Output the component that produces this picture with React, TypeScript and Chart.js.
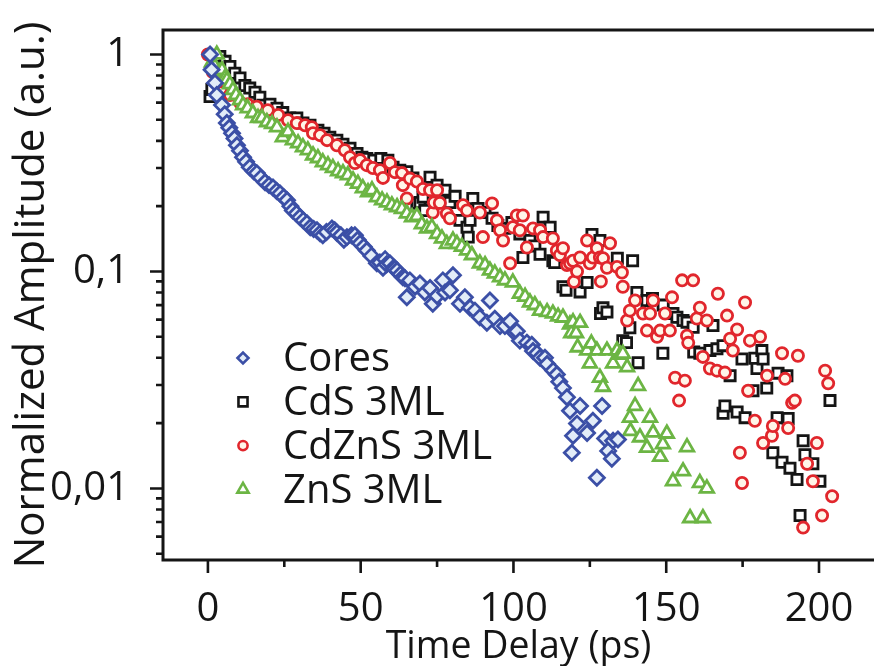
import React, { useEffect, useRef } from 'react';
import { Chart, registerables } from 'chart.js';

Chart.register(...registerables);

// ---------- data (time in ps, normalized amplitude) ----------
const coresT = [0.7, 1.2, 2.3, 2.9, 4.6, 5.5, 6.2, 7.0, 7.9, 8.7, 9.5, 10.5, 11.5, 12.5, 13.7, 15.0, 16.0, 17.3, 18.7, 20.0, 21.3, 22.5, 23.6, 24.8, 25.9, 27.0, 27.8, 29.0, 30.1, 31.2, 32.4, 33.5, 34.6, 35.7, 36.7, 37.6, 38.8, 40.6, 41.5, 42.2, 43.5, 44.5, 45.5, 47.0, 48.1, 49.0, 49.8, 51.0, 52.0, 53.5, 55.3, 56.3, 57.3, 58.0, 58.5, 59.6, 60.8, 61.2, 61.9, 63.0, 63.8, 64.5, 65.1, 66.1, 67.8, 69.4, 71.0, 72.7, 73.6, 75.0, 76.9, 77.6, 79.2, 80.2, 82.5, 84.1, 85.8, 87.4, 89.0, 91.3, 92.3, 93.9, 95.6, 97.2, 98.9, 100.5, 101.1, 102.1, 104.4, 106.0, 106.4, 107.7, 108.7, 110.3, 111.0, 113.0, 114.2, 115.0, 116.2, 117.5, 118.5, 119.1, 119.5, 120.8, 121.8, 124.1, 126.0, 127.3, 129.0, 130.0, 131.0, 132.2, 132.6, 134.2];
const coresV = [1.0, 0.85, 0.74, 0.65, 0.585, 0.53, 0.483, 0.46, 0.434, 0.41, 0.382, 0.36, 0.336, 0.32, 0.302, 0.29, 0.284, 0.27, 0.258, 0.25, 0.244, 0.235, 0.229, 0.22, 0.213, 0.2, 0.191, 0.185, 0.178, 0.172, 0.167, 0.16, 0.157, 0.155, 0.15, 0.147, 0.152, 0.158, 0.155, 0.151, 0.147, 0.14, 0.144, 0.147, 0.147, 0.14, 0.135, 0.13, 0.125, 0.118, 0.109, 0.11, 0.104, 0.114, 0.108, 0.109, 0.104, 0.103, 0.101, 0.097, 0.094, 0.093, 0.076, 0.091, 0.085, 0.088, 0.08, 0.084, 0.071, 0.077, 0.091, 0.08, 0.082, 0.096, 0.071, 0.076, 0.068, 0.066, 0.0615, 0.058, 0.0735, 0.0605, 0.056, 0.056, 0.059, 0.052, 0.053, 0.048, 0.047, 0.046, 0.043, 0.042, 0.04, 0.04, 0.0375, 0.035, 0.0335, 0.031, 0.029, 0.0263, 0.0228, 0.0146, 0.0175, 0.0199, 0.024, 0.018, 0.0205, 0.0112, 0.024, 0.017, 0.0149, 0.0137, 0.0166, 0.0168];

const cdsT = [0.7, 1.3, 3.9, 5.6, 7.2, 8.8, 10.5, 12.1, 13.7, 15.4, 17.0, 18.0, 20.3, 22.6, 24.5, 26.8, 29.1, 31.1, 33.4, 36.0, 38.0, 39.9, 42.2, 44.2, 46.5, 48.8, 50.4, 52.0, 54.3, 56.6, 58.9, 60.6, 62.8, 65.1, 67.1, 68.4, 69.4, 70.4, 71.0, 72.7, 75.0, 77.6, 79.2, 80.9, 82.5, 84.8, 85.2, 85.8, 86.7, 88.4, 90.7, 93.0, 94.9, 97.2, 99.5, 102.1, 103.1, 105.4, 107.0, 108.7, 109.7, 112.0, 112.9, 113.5, 116.2, 117.2, 121.8, 124.1, 125.7, 128.3, 128.5, 129.3, 130.6, 134.0, 135.8, 137.0, 138.1, 139.0, 140.4, 140.8, 143.7, 145.5, 148.9, 149.0, 152.2, 153.5, 155.5, 156.8, 158.8, 159.0, 161.0, 164.3, 165.3, 166.6, 168.6, 168.6, 169.2, 170.9, 173.2, 174.8, 175.8, 178.4, 179.0, 179.7, 181.3, 181.7, 182.9, 184.9, 186.3, 186.6, 187.9, 189.5, 189.9, 190.5, 192.8, 193.8, 194.8, 195.4, 198.0, 200.3, 203.6];
const cdsV = [0.64, 0.69, 0.98, 0.93, 0.88, 0.82, 0.78, 0.72, 0.7, 0.67, 0.636, 0.584, 0.59, 0.566, 0.54, 0.51, 0.51, 0.483, 0.472, 0.448, 0.434, 0.416, 0.403, 0.386, 0.37, 0.35, 0.336, 0.332, 0.326, 0.332, 0.326, 0.302, 0.293, 0.288, 0.27, 0.206, 0.208, 0.22, 0.191, 0.272, 0.25, 0.237, 0.208, 0.222, 0.172, 0.16, 0.144, 0.172, 0.217, 0.195, 0.187, 0.176, 0.163, 0.158, 0.168, 0.149, 0.116, 0.139, 0.131, 0.12, 0.178, 0.16, 0.112, 0.11, 0.085, 0.082, 0.0805, 0.089, 0.148, 0.139, 0.064, 0.068, 0.065, 0.115, 0.048, 0.047, 0.055, 0.112, 0.08, 0.038, 0.0735, 0.075, 0.042, 0.07, 0.064, 0.0615, 0.0594, 0.0584, 0.0553, 0.0425, 0.042, 0.0432, 0.0563, 0.044, 0.0455, 0.0222, 0.024, 0.0331, 0.0225, 0.0395, 0.0212, 0.0282, 0.0398, 0.0357, 0.0432, 0.0395, 0.029, 0.0146, 0.0212, 0.034, 0.0132, 0.0331, 0.021, 0.0124, 0.011, 0.0075, 0.0166, 0.0143, 0.013, 0.0108, 0.0254];

const cdznsT = [0.0, 1.6, 3.0, 4.6, 7.2, 10.5, 13.0, 16.0, 19.6, 23.0, 26.2, 29.1, 31.8, 34.0, 34.4, 36.7, 39.0, 42.2, 44.8, 46.5, 48.1, 49.8, 52.0, 54.0, 56.3, 57.3, 59.6, 61.2, 63.5, 63.8, 65.1, 66.1, 68.4, 70.4, 72.7, 73.6, 74.0, 75.0, 75.9, 78.2, 79.2, 83.5, 84.8, 89.0, 90.0, 93.0, 94.6, 95.6, 96.6, 98.9, 99.8, 101.1, 102.1, 103.1, 104.4, 106.4, 108.7, 109.7, 112.9, 114.2, 115.2, 116.2, 117.5, 118.5, 119.5, 119.8, 120.8, 121.8, 124.1, 125.0, 126.0, 127.3, 128.3, 128.6, 129.3, 130.6, 131.6, 133.9, 135.5, 135.8, 137.2, 138.1, 139.8, 142.4, 143.7, 144.7, 145.7, 147.0, 148.0, 149.6, 151.2, 151.9, 152.9, 154.2, 155.2, 156.1, 156.8, 157.2, 158.8, 160.0, 161.0, 162.0, 163.3, 164.3, 166.6, 166.9, 169.2, 169.9, 170.9, 171.8, 173.2, 174.1, 174.8, 175.8, 176.8, 177.4, 179.0, 180.7, 181.7, 183.0, 184.6, 184.9, 187.9, 188.9, 189.9, 191.2, 192.1, 193.1, 194.8, 196.1, 198.0, 199.3, 201.0, 202.0, 203.0, 204.3];
const cdznsV = [1.0, 0.83, 0.75, 0.67, 0.65, 0.6, 0.59, 0.575, 0.554, 0.526, 0.498, 0.483, 0.472, 0.462, 0.434, 0.425, 0.403, 0.382, 0.362, 0.336, 0.316, 0.326, 0.309, 0.3, 0.293, 0.27, 0.316, 0.287, 0.284, 0.25, 0.217, 0.268, 0.26, 0.24, 0.237, 0.187, 0.208, 0.237, 0.207, 0.185, 0.176, 0.202, 0.191, 0.187, 0.144, 0.206, 0.172, 0.155, 0.139, 0.109, 0.16, 0.181, 0.155, 0.181, 0.129, 0.158, 0.155, 0.144, 0.142, 0.125, 0.119, 0.128, 0.107, 0.109, 0.112, 0.0897, 0.1, 0.116, 0.139, 0.109, 0.116, 0.128, 0.116, 0.09, 0.115, 0.104, 0.135, 0.105, 0.099, 0.085, 0.0594, 0.066, 0.0735, 0.064, 0.0534, 0.064, 0.0735, 0.05, 0.0534, 0.064, 0.0534, 0.076, 0.0324, 0.0254, 0.091, 0.0314, 0.0506, 0.0469, 0.091, 0.0607, 0.068, 0.0404, 0.0594, 0.0357, 0.0349, 0.079, 0.0342, 0.0626, 0.049, 0.0432, 0.054, 0.0146, 0.0106, 0.072, 0.0282, 0.048, 0.0205, 0.05, 0.0162, 0.0331, 0.0175, 0.0194, 0.042, 0.032, 0.019, 0.0248, 0.0254, 0.0409, 0.0066, 0.013, 0.0108, 0.0162, 0.0075, 0.0349, 0.0305, 0.0092];

const znsT = [1.3, 2.3, 2.9, 3.9, 4.6, 5.6, 6.2, 7.2, 8.2, 9.2, 10.5, 11.5, 13.0, 14.7, 16.4, 17.7, 19.3, 21.0, 22.6, 24.5, 26.2, 27.8, 29.5, 31.1, 32.7, 34.4, 36.0, 37.6, 39.3, 40.9, 42.6, 44.2, 45.8, 47.5, 49.1, 50.7, 52.4, 53.7, 55.3, 57.0, 58.6, 60.2, 61.9, 63.5, 65.1, 66.8, 68.4, 70.0, 71.7, 73.3, 75.0, 76.6, 78.2, 80.2, 81.5, 83.1, 84.8, 86.4, 89.0, 90.7, 92.3, 93.9, 95.6, 97.2, 99.8, 102.1, 103.8, 105.4, 107.0, 108.7, 111.0, 112.9, 114.6, 116.2, 118.5, 118.9, 119.5, 120.5, 121.0, 121.8, 124.1, 125.0, 125.5, 127.3, 128.3, 129.3, 130.6, 132.6, 133.9, 134.9, 135.8, 137.2, 138.1, 138.3, 139.8, 140.8, 141.4, 143.7, 144.7, 145.7, 148.0, 148.9, 150.2, 152.2, 155.5, 156.8, 157.8, 161.0, 162.0, 163.3];
const znsV = [0.92, 0.88, 1.0, 0.83, 0.848, 0.78, 0.763, 0.73, 0.686, 0.65, 0.616, 0.584, 0.566, 0.537, 0.51, 0.51, 0.488, 0.478, 0.462, 0.416, 0.44, 0.403, 0.39, 0.374, 0.362, 0.343, 0.333, 0.319, 0.309, 0.3, 0.29, 0.284, 0.278, 0.263, 0.254, 0.242, 0.232, 0.237, 0.22, 0.213, 0.208, 0.202, 0.198, 0.194, 0.185, 0.178, 0.18, 0.165, 0.158, 0.16, 0.149, 0.142, 0.134, 0.139, 0.134, 0.13, 0.125, 0.119, 0.109, 0.107, 0.101, 0.098, 0.094, 0.091, 0.089, 0.079, 0.0765, 0.072, 0.07, 0.066, 0.065, 0.064, 0.062, 0.0613, 0.057, 0.052, 0.0584, 0.052, 0.0447, 0.058, 0.0432, 0.0377, 0.0466, 0.0432, 0.0324, 0.0294, 0.0432, 0.0377, 0.0432, 0.0414, 0.0418, 0.0362, 0.0212, 0.0184, 0.024, 0.0297, 0.0172, 0.0154, 0.0212, 0.0181, 0.014, 0.016, 0.0179, 0.0108, 0.012, 0.0155, 0.0073, 0.0106, 0.0073, 0.01];

const seriesNames = ['Cores', 'CdS 3ML', 'CdZnS 3ML', 'ZnS 3ML'];

// ---------- axes ----------
const xMin = -14.7;
const xMax = 218;
const xMajorTicks = [0, 50, 100, 150, 200];
const xMinorTicks = [25, 75, 125, 175];
const yMin = 0.00468;
const yMax = 1.297;
const yLabeledTicks = [0.01, 0.1, 1];
const yTickLabels = ['0,01', '0,1', '1'];
const yMinorTicks = [0.005, 0.006, 0.007, 0.008, 0.009, 0.02, 0.03, 0.04, 0.05, 0.06, 0.07, 0.08, 0.09, 0.2, 0.3, 0.4, 0.5, 0.6, 0.7, 0.8, 0.9];

const FONT = "'Open Sans', sans-serif";
const INK = '#151515';

const styles = [
  { shape: 'rectRot', r: 7.5, color: '#3b4fa6', fill: '#e2ecf8', lr: 5.5 },
  { shape: 'rect', r: 7.2, color: '#151515', fill: '#ffffff', lr: 6.4 },
  { shape: 'circle', r: 5.6, color: '#e1262c', fill: '#fff5e8', lr: 4.6 },
  { shape: 'triangle', r: 7.8, color: '#6cb544', fill: '#ffffff', lr: 6.5 },
];
const drawOrder = [0, 3, 2, 1];

const toPoints = (t: number[], v: number[]) => t.map((x, i) => ({ x, y: v[i] }));

function marker(ctx: CanvasRenderingContext2D, shape: string, x: number, y: number, r: number) {
  ctx.beginPath();
  if (shape === 'rectRot') {
    ctx.moveTo(x - r, y); ctx.lineTo(x, y - r); ctx.lineTo(x + r, y); ctx.lineTo(x, y + r); ctx.closePath();
  } else if (shape === 'rect') {
    const s = r * Math.SQRT1_2;
    ctx.rect(x - s, y - s, 2 * s, 2 * s);
  } else if (shape === 'circle') {
    ctx.arc(x, y, r, 0, Math.PI * 2);
  } else {
    const a = Math.PI * 2 / 3;
    ctx.moveTo(x, y - r);
    ctx.lineTo(x + Math.sin(a) * r, y - Math.cos(a) * r);
    ctx.lineTo(x + Math.sin(2 * a) * r, y - Math.cos(2 * a) * r);
    ctx.closePath();
  }
  ctx.fill();
  ctx.stroke();
}

const framePlugin = {
  id: 'frameTicks',
  afterDatasetsDraw(chart: any) {
    const { ctx, chartArea: a, scales } = chart;
    const xs = scales.x;
    const ys = scales.y;
    ctx.save();
    ctx.strokeStyle = INK;
    ctx.lineWidth = 3;
    ctx.lineJoin = 'miter';
    ctx.beginPath();
    ctx.moveTo(a.right + 2, a.top);
    ctx.lineTo(a.left, a.top);
    ctx.lineTo(a.left, a.bottom);
    ctx.lineTo(a.right + 2, a.bottom);
    ctx.stroke();
    ctx.lineWidth = 2.6;
    ctx.beginPath();
    xMajorTicks.forEach((v) => { const p = xs.getPixelForValue(v); ctx.moveTo(p, a.bottom); ctx.lineTo(p, a.bottom + 13); });
    xMinorTicks.forEach((v) => { const p = xs.getPixelForValue(v); ctx.moveTo(p, a.bottom); ctx.lineTo(p, a.bottom + 7); });
    yLabeledTicks.forEach((v) => { const p = ys.getPixelForValue(v); ctx.moveTo(a.left, p); ctx.lineTo(a.left - 13, p); });
    yMinorTicks.forEach((v) => { const p = ys.getPixelForValue(v); ctx.moveTo(a.left, p); ctx.lineTo(a.left - 7, p); });
    ctx.stroke();
    ctx.restore();
  },
};

const legendPlugin = {
  id: 'insetLegend',
  afterDatasetsDraw(chart: any) {
    const { ctx } = chart;
    ctx.save();
    ctx.font = `40px ${FONT}`;
    ctx.textBaseline = 'middle';
    ctx.textAlign = 'left';
    chart.data.datasets.forEach((ds: any, i: number) => {
      const st = styles[i];
      const y = 358 + i * 43.8;
      ctx.lineWidth = 2.6;
      ctx.strokeStyle = st.color;
      ctx.fillStyle = st.fill;
      marker(ctx, st.shape, 243, y, st.lr);
      ctx.fillStyle = INK;
      ctx.fillText(ds.label, 283, y + 2);
    });
    ctx.restore();
  },
};

export default function App() {
  const ref = useRef<HTMLCanvasElement | null>(null);

  useEffect(() => {
    document.body.style.margin = '0';
    const canvas = ref.current;
    if (!canvas) return;
    const sets = [
      toPoints(coresT, coresV),
      toPoints(cdsT, cdsV),
      toPoints(cdznsT, cdznsV),
      toPoints(znsT, znsV),
    ];
    const chart = new Chart(canvas, {
      type: 'scatter',
      data: {
        datasets: sets.map((data, i) => ({
          label: seriesNames[i],
          data,
          order: drawOrder[i],
          pointStyle: styles[i].shape as any,
          pointRadius: styles[i].r,
          pointHoverRadius: styles[i].r,
          borderWidth: 2.8,
          pointBorderWidth: 2.8,
          borderColor: styles[i].color,
          pointBorderColor: styles[i].color,
          backgroundColor: styles[i].fill,
          pointBackgroundColor: styles[i].fill,
          showLine: false,
          clip: false as any,
        })),
      },
      options: {
        responsive: false,
        animation: false,
        devicePixelRatio: 1,
        layout: { autoPadding: false, padding: { top: 30, right: 0, left: 0, bottom: 0 } },
        plugins: {
          legend: { display: false },
          tooltip: { enabled: false },
        },
        scales: {
          x: {
            type: 'linear',
            position: 'bottom',
            min: xMin,
            max: xMax,
            grid: { display: false },
            border: { display: false },
            afterBuildTicks: (s: any) => { s.ticks = xMajorTicks.map((value) => ({ value })); },
            afterFit: (s: any) => { s.height = 106; s.paddingLeft = 0; s.paddingRight = 0; },
            ticks: {
              autoSkip: false,
              maxRotation: 0,
              padding: 18,
              color: INK,
              font: { family: FONT, size: 40 },
              callback: (v: any) => String(v),
            },
            title: {
              display: true,
              text: 'Time Delay (ps)',
              color: INK,
              font: { family: FONT, size: 37.5 },
              padding: { top: 0, bottom: -4 },
            },
          },
          y: {
            type: 'logarithmic',
            position: 'left',
            min: yMin,
            max: yMax,
            grid: { display: false },
            border: { display: false },
            afterBuildTicks: (s: any) => { s.ticks = yLabeledTicks.map((value) => ({ value })); },
            afterFit: (s: any) => { s.width = 163; s.paddingTop = 0; s.paddingBottom = 0; },
            ticks: {
              autoSkip: false,
              padding: 26,
              color: INK,
              font: { family: FONT, size: 40 },
              callback: (v: any) => {
                const k = yLabeledTicks.findIndex((t) => Math.abs(t - Number(v)) / t < 1e-6);
                return k >= 0 ? yTickLabels[k] : '';
              },
            },
            title: {
              display: true,
              text: 'Normalized Amplitude (a.u.)',
              color: INK,
              font: { family: FONT, size: 42 },
              padding: { top: 7, bottom: 0 },
            },
          },
        },
      },
      plugins: [framePlugin, legendPlugin],
    });
    return () => chart.destroy();
  }, []);

  return (
    <div style={{ width: 874, height: 666, overflow: 'hidden' }}>
      <canvas ref={ref} width={874} height={666} style={{ display: 'block' }} />
    </div>
  );
}
